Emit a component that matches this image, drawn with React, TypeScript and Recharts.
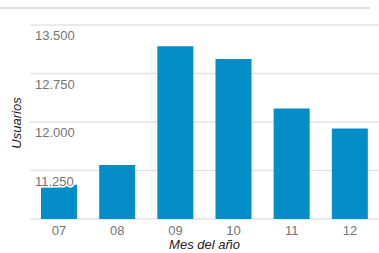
import React from 'react';
import { BarChart, Bar, XAxis, YAxis, CartesianGrid } from 'recharts';

const months = ['07', '08', '09', '10', '11', '12'];
const users = [11030, 11335, 13170, 12975, 12210, 11900];
const yTicks = [10500, 11250, 12000, 12750, 13500];

const data = months.map((m, i) => ({ month: m, users: users[i] }));

const fmt = (v: number) => {
  const s = String(v);
  return s.replace(/\B(?=(\d{3})+(?!\d))/g, '.');
};

const YTick = (props: any) => {
  const { y, payload } = props;
  if (payload.value === yTicks[0]) return <g />;
  return (
    <text
      x={35}
      y={y + 12}
      textAnchor="start"
      fontSize={13}
      fill="#757575"
      fontFamily="Liberation Sans, Arial, sans-serif"
      stroke="#ffffff"
      strokeWidth={3}
      paintOrder="stroke"
      dominantBaseline="middle"
    >
      {fmt(payload.value)}
    </text>
  );
};

const XTick = (props: any) => {
  const { x, y, payload } = props;
  return (
    <text
      x={x}
      y={y}
      dy={8}
      textAnchor="middle"
      fontSize={13}
      fill="#757575"
      fontFamily="Liberation Sans, Arial, sans-serif"
    >
      {payload.value}
    </text>
  );
};

const YLabel = (props: any) => {
  const vb = props.viewBox || { y: 25, height: 194 };
  const cy = vb.y + vb.height / 2 + 1;
  return (
    <text
      x={18}
      y={cy}
      transform={`rotate(-90, 18, ${cy})`}
      textAnchor="middle"
      dominantBaseline="middle"
      fontSize={13}
      fontStyle="italic"
      fill="#222222"
      fontFamily="Liberation Sans, Arial, sans-serif"
    >
      Usuarios
    </text>
  );
};

const XLabel = (props: any) => {
  const vb = props.viewBox || { x: 30, width: 349 };
  const cx = vb.x + vb.width / 2;
  return (
    <text
      x={cx}
      y={246}
      textAnchor="middle"
      dominantBaseline="middle"
      fontSize={13}
      fontStyle="italic"
      fill="#222222"
      fontFamily="Liberation Sans, Arial, sans-serif"
    >
      Mes del año
    </text>
  );
};

export default function App() {
  return (
    <div style={{ position: 'absolute', left: 0, top: 0, width: 379, height: 253, background: '#fff' }}>
      <div style={{ position: 'absolute', left: 0, top: 7, width: 370, height: 2, background: '#dedede' }} />
      <BarChart
        width={379}
        height={253}
        data={data}
        margin={{ top: 25, right: 0, bottom: 0, left: 0 }}
      >
        <CartesianGrid vertical={false} stroke="#e3e3e3" strokeWidth={1.5} />
        <Bar dataKey="users" fill="#058dc7" barSize={36} isAnimationActive={false} />
        <XAxis
          dataKey="month"
          height={34}
          axisLine={false}
          tickLine={false}
          tickSize={0}
          tickMargin={8}
          tick={<XTick />}
          label={<XLabel />}
        />
        <YAxis
          width={30}
          domain={[10500, 13500]}
          ticks={yTicks}
          axisLine={false}
          tickLine={false}
          tick={<YTick />}
          label={<YLabel />}
          allowDataOverflow
        />
      </BarChart>
    </div>
  );
}
